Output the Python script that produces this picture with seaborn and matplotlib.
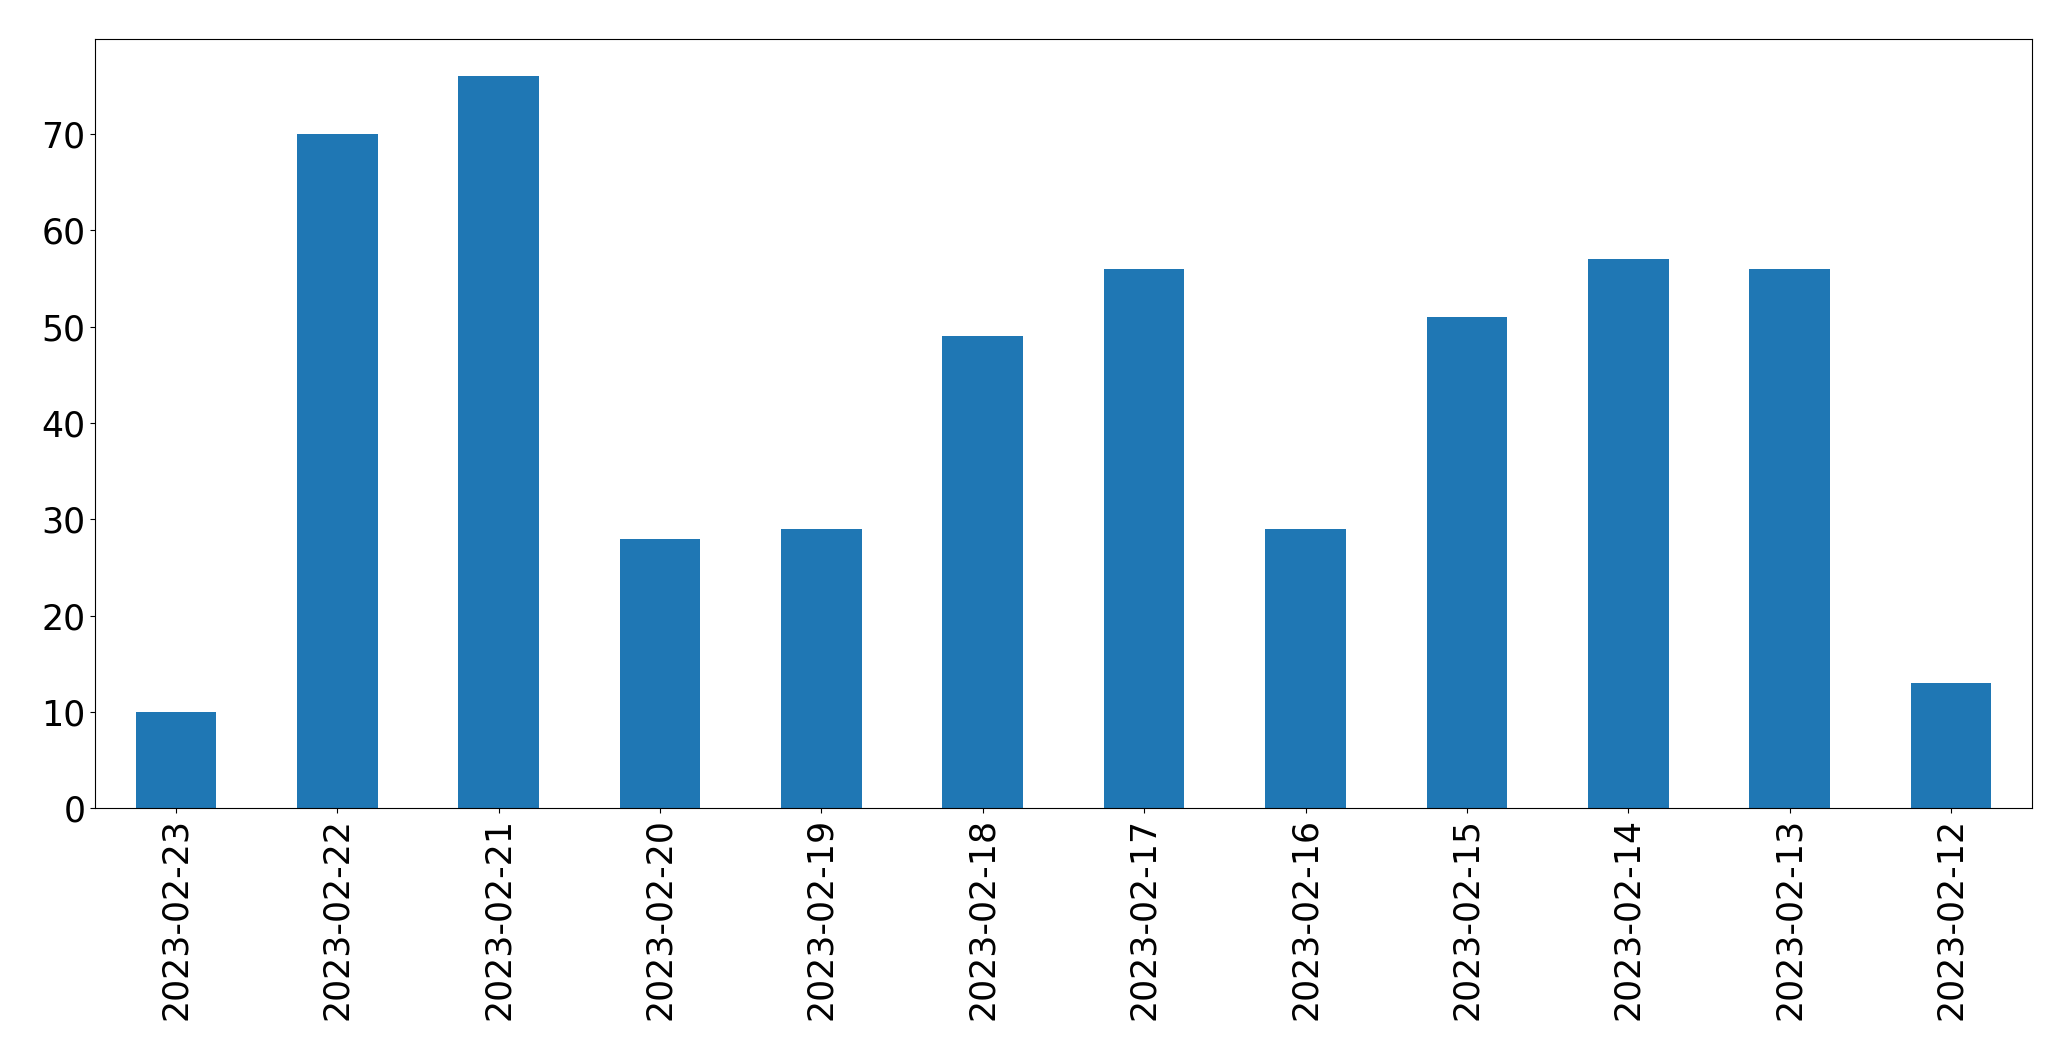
import pandas as pd
import matplotlib
matplotlib.use("Agg")
import matplotlib.pyplot as plt
import seaborn as sns

dates = ["2023-02-23", "2023-02-22", "2023-02-21", "2023-02-20", "2023-02-19", "2023-02-18",
         "2023-02-17", "2023-02-16", "2023-02-15", "2023-02-14", "2023-02-13", "2023-02-12"]
counts = [10, 70, 76, 28, 29, 49, 56, 29, 51, 57, 56, 13]

df = pd.DataFrame({"date": dates, "count": counts})

fig, ax = plt.subplots(figsize=(20.71, 10.61), dpi=100)
sns.barplot(data=df, x="date", y="count", order=dates, color="#1f77b4",
            saturation=1, width=0.5, ax=ax)
ax.set_xlim(-0.5, len(dates) - 0.5)
ax.set_ylim(0, max(counts) * 1.05)
ax.set_xlabel("")
ax.set_ylabel("")
ax.tick_params(axis="both", labelsize=25)
plt.setp(ax.get_xticklabels(), rotation=90)
fig.subplots_adjust(left=0.046, right=0.981, top=0.963, bottom=0.238)
fig.savefig("out.png")
